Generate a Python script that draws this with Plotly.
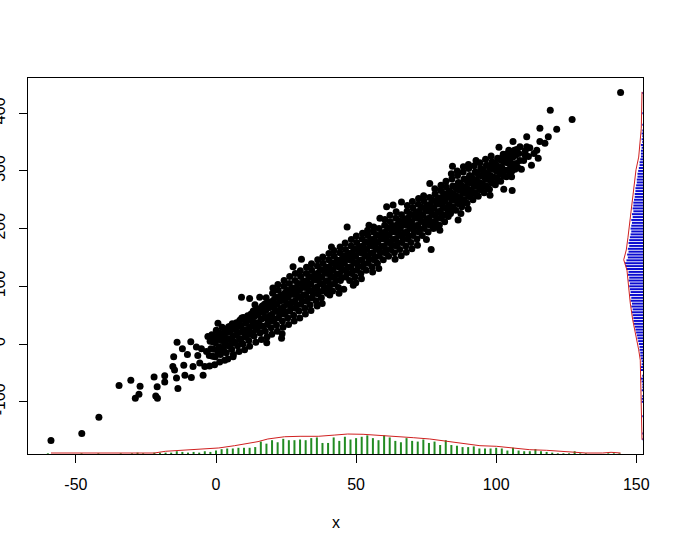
import plotly.graph_objects as go

# ---------------- scatter data ----------------
tail_left = [(-58.9,-167), (-47.9,-155), (-41.8,-127), (-34.6,-72), (-30.4,-63), (-27.1,-73),
             (-27.5,-87), (-28.8,-94), (-22.1,-57), (-21.0,-74), (-21.5,-90), (-20.9,-94),
             (-18.3,-55), (-18.3,-66), (-15.1,-22), (-15.4,-39), (-14.8,-45), (-14.1,-59),
             (-13.6,-77), (-13.9,3), (-12.0,-8), (-11.5,-37), (-11.1,-54), (-8.8,-58),
             (-8.2,-39), (-9.0,4), (-7.0,-5), (-5.2,-8), (-4.6,-54), (-5.8,-33), (-4.0,-39),
             (-2.3,-38), (-0.5,-36), (1.3,-31), (3.1,-28), (-3.4,-13), (-2.9,13), (0.7,36),
             (6.1,-22), (-6.5,-20), (-10.2,-18)]

band_a = [(-2.4,-20), (-1.8,-8), (-2.1,5), (-1.5,16),
          (-0.3,-22), (0.4,-10), (-0.2,2), (0.5,14), (0.1,24),
          (1.6,-18), (2.3,-6), (1.9,6), (2.5,18), (2.2,29),
          (3.7,-15), (4.4,-3), (4.1,9), (3.8,20), (4.5,30), (4.2,-26),
          (5.6,-9), (6.3,2), (6.0,14), (6.4,26), (5.8,35), (6.2,-18),
          (7.7,-3), (8.4,9), (8.1,20), (7.8,32), (8.5,41), (8.2,-13),
          (9.6,0), (10.3,12), (10.0,24), (10.5,36), (9.8,46), (10.2,-10), (9.1,81),
          (11.7,6), (12.4,17), (12.1,29), (11.8,41), (12.5,52), (12.0,-4), (12.0,79),
          (13.6,14), (14.3,25), (14.0,37), (13.8,48), (14.5,60), (14.2,3), (13.9,68),
          (15.7,19), (16.4,31), (16.1,43), (15.8,55), (16.5,66), (16.2,8), (15.6,81),
          (17.6,22), (18.3,34), (18.0,46), (17.8,58), (18.5,70), (18.2,12), (17.9,80), (18.1,2),
          (19.7,28), (20.4,40), (20.1,52), (19.8,64), (20.5,76), (20.2,88), (19.9,17), (20.3,97),
          (21.6,33), (22.3,45), (22.0,57), (21.8,69), (22.5,81), (22.2,93), (21.9,22), (22.1,103),
          (23.7,40), (24.4,52), (24.1,64), (23.8,76), (24.5,88), (24.2,100), (23.9,29), (24.3,110),
          (23.4,10), (23.6,18),
          (25.6,45), (26.3,57), (26.0,69), (25.8,81), (26.5,93), (26.2,105), (25.9,34), (26.3,117),
          (27.5,134),
          (27.7,50), (28.4,62), (28.1,74), (27.8,86), (28.5,98), (28.2,110), (27.9,40), (28.3,122)]

band_b = [(29.6,57), (30.3,69), (30.0,81), (29.8,93), (30.5,105), (30.2,117), (29.9,45), (30.1,127),
          (30.5,147),
          (31.7,62), (32.4,74), (32.1,86), (31.8,98), (32.5,110), (32.2,122), (31.9,52), (32.3,133),
          (33.6,68), (34.3,80), (34.0,92), (33.8,104), (34.5,116), (34.2,128), (33.9,58), (34.1,139),
          (35.7,75), (36.4,87), (36.1,99), (35.8,111), (36.5,123), (36.2,135), (36.1,66), (36.3,146),
          (37.6,80), (38.3,92), (38.0,104), (37.8,116), (38.5,128), (38.2,140), (37.9,70), (38.1,151),
          (39.7,88), (40.4,98), (40.1,110), (39.8,122), (40.5,134), (40.2,146), (40.6,85), (40.3,157),
          (41.6,92), (42.3,104), (42.0,116), (41.8,128), (42.5,140), (42.2,152), (41.2,168), (42.1,162),
          (43.7,98), (44.4,110), (44.1,122), (43.8,134), (44.5,146), (44.2,158), (43.9,88), (44.3,168),
          (45.6,95), (46.3,116), (46.0,128), (45.8,140), (46.5,152), (46.2,164), (46.8,203), (46.1,175),
          (47.7,110), (48.4,122), (48.1,134), (47.8,146), (48.5,158), (48.2,170), (49.0,102), (48.3,181),
          (49.6,116), (50.3,128), (50.0,140), (49.8,152), (50.5,164), (50.2,176), (49.9,106), (50.1,187),
          (51.7,122), (52.4,134), (52.1,146), (51.8,158), (52.5,170), (52.2,182), (51.9,113), (52.3,192),
          (53.6,128), (54.3,140), (54.0,152), (53.8,164), (54.5,176), (54.2,188), (54.6,206), (54.1,197),
          (55.7,134), (56.4,146), (56.1,158), (55.8,170), (56.5,182), (56.2,194), (55.9,125), (56.3,203),
          (57.6,140), (58.3,152), (58.0,164), (57.8,176), (58.5,188), (58.2,200), (58.5,218), (58.1,131)]

band_c = [(59.7,146), (60.4,158), (60.1,170), (59.8,182), (60.5,194), (60.2,206), (60.9,238), (60.3,216),
          (61.6,152), (62.3,164), (62.0,176), (61.8,188), (62.5,200), (62.2,212), (63.2,241), (62.1,223),
          (63.7,158), (64.4,170), (64.1,182), (63.8,194), (64.5,206), (64.2,218), (63.9,147), (64.3,229),
          (65.6,164), (66.3,176), (66.0,188), (65.8,200), (66.5,212), (66.2,224), (66.2,246), (66.1,153),
          (67.7,170), (68.4,182), (68.1,194), (67.8,206), (68.5,218), (68.2,230), (67.9,159), (68.3,240),
          (69.6,176), (70.3,188), (70.0,200), (69.8,212), (70.5,224), (70.2,236), (69.9,165), (70.1,247),
          (71.7,182), (72.4,194), (72.1,206), (71.8,218), (72.5,230), (72.2,242), (71.9,171), (72.3,252),
          (73.6,188), (74.3,200), (74.0,212), (73.8,224), (74.5,236), (74.2,248), (75.1,181), (74.1,257),
          (75.7,194), (76.4,206), (76.1,218), (75.8,230), (76.5,242), (76.2,254), (76.8,164), (76.3,278),
          (77.6,200), (78.3,212), (78.0,224), (77.8,236), (78.5,248), (78.2,260), (78.7,203), (78.1,269),
          (79.7,206), (80.4,218), (80.1,230), (79.8,242), (80.5,254), (80.2,266), (79.9,197), (80.3,275),
          (81.6,212), (82.3,224), (82.0,236), (81.8,248), (82.5,260), (82.2,272), (82.9,221), (82.1,282),
          (83.7,226), (84.4,238), (84.1,250), (83.8,262), (84.5,274), (84.2,286), (84.4,308), (84.0,295),
          (85.6,232), (86.3,244), (86.0,256), (85.8,268), (86.5,280), (86.2,292), (86.4,215), (86.1,300),
          (87.7,238), (88.4,250), (88.0,262), (87.8,274), (88.5,286), (88.2,298), (87.4,226), (88.3,307)]

band_d = [(89.6,244), (90.3,256), (90.0,268), (89.8,280), (90.5,292), (90.2,304), (90.0,234), (90.1,311),
          (91.7,250), (92.4,262), (92.1,274), (91.8,286), (92.5,298), (92.2,309), (92.8,318),
          (93.6,256), (94.3,268), (94.0,280), (93.8,292), (94.5,304), (94.2,314),
          (95.7,262), (96.4,274), (96.1,286), (95.8,298), (96.5,310), (96.2,320),
          (97.6,268), (98.3,280), (98.0,292), (97.8,304), (98.5,316), (98.2,326), (97.8,258),
          (99.7,276), (100.4,288), (100.1,300), (99.8,312), (100.5,322), (101.0,341),
          (101.6,282), (102.3,294), (102.0,306), (101.8,318), (102.5,329), (102.7,268), (103.5,329),
          (103.7,290), (104.4,302), (104.1,314), (103.8,326), (104.5,336), (105.7,266), (105.5,290),
          (105.6,300), (106.3,312), (106.0,324), (106.5,336), (106.0,351),
          (107.7,306), (108.4,318), (108.1,330), (108.5,342),
          (109.0,303), (110.3,328), (110.9,342), (110.9,359), (109.8,318), (110.4,335),
          (112.6,310), (111.5,325), (112.0,340),
          (115.0,322), (115.6,351), (117.4,348), (115.6,374), (114.5,336), (113.5,330)]

# points in the solid core of the cloud, between the ones above
band_core = [(-1.2,-21), (-0.8,-9), (-1.1,4), (-0.7,13),
             (0.8,-15), (1.2,-5), (0.9,9), (1.3,19),
             (2.7,-11), (3.2,3), (2.9,13), (3.3,25),
             (4.8,-3), (5.3,7), (4.9,21), (5.2,31),
             (6.7,3), (7.2,15), (6.9,25), (7.3,37),
             (8.8,7), (9.3,21), (8.9,31), (9.2,45),
             (10.7,15), (11.2,25), (10.9,39), (11.3,49),
             (12.8,19), (13.2,33), (12.9,43), (13.3,57),
             (14.7,27), (15.2,37), (14.9,51), (15.3,61),
             (16.8,31), (17.2,45), (16.9,55), (17.3,69),
             (18.7,39), (19.2,49), (18.9,63), (19.3,73),
             (20.8,43), (21.2,57), (20.9,67), (21.3,81),
             (22.7,51), (23.2,61), (22.9,75), (23.3,85),
             (24.8,55), (25.2,69), (24.9,79), (25.3,93),
             (26.7,63), (27.2,73), (26.9,87), (27.3,97),
             (28.8,67), (29.2,81), (28.9,91), (29.3,105),
             (30.7,75), (31.2,85), (30.9,99), (31.3,109),
             (32.8,79), (33.2,93), (32.9,103), (33.3,117),
             (34.7,87), (35.2,97), (34.9,111), (35.3,121),
             (36.8,91), (37.2,105), (36.9,115), (37.3,129),
             (38.7,99), (39.2,109), (38.9,123), (39.3,133),
             (40.8,103), (41.2,117), (40.9,127), (41.3,141),
             (42.7,111), (43.2,121), (42.9,135), (43.3,145),
             (44.8,115), (45.2,129), (44.9,139), (45.3,153),
             (46.7,123), (47.2,133), (46.9,147), (47.3,157),
             (48.8,127), (49.2,141), (48.9,151), (49.3,165),
             (50.7,135), (51.2,145), (50.9,159), (51.3,169),
             (52.8,139), (53.2,153), (52.9,163), (53.3,177),
             (54.7,147), (55.2,157), (54.9,171), (55.3,181),
             (56.8,151), (57.2,165), (56.9,175), (57.3,189),
             (58.7,159), (59.2,169), (58.9,183), (59.3,193),
             (60.8,163), (61.2,177), (60.9,187), (61.3,201),
             (62.7,171), (63.2,181), (62.9,195), (63.3,205),
             (64.8,175), (65.2,189), (64.9,199), (65.3,213),
             (66.7,183), (67.2,193), (66.9,207), (67.3,217),
             (68.8,187), (69.2,201), (68.9,211), (69.3,225),
             (70.7,195), (71.2,205), (70.9,219), (71.3,229),
             (72.8,199), (73.2,213), (72.9,223), (73.3,237),
             (74.7,207), (75.2,217), (74.9,231), (75.3,241),
             (76.8,211), (77.2,225), (76.9,235), (77.3,249),
             (78.7,219), (79.2,229), (78.9,243), (79.3,253),
             (80.8,223), (81.2,237), (80.9,247), (81.3,261),
             (82.7,231), (83.2,241), (82.9,255), (83.3,265),
             (84.8,235), (85.2,249), (84.9,259), (85.3,273),
             (86.7,243), (87.2,253), (86.9,267), (87.3,277),
             (88.8,247), (89.2,261), (88.9,271), (89.3,285),
             (90.7,255), (91.2,265), (90.9,279), (91.3,289),
             (92.8,259), (93.2,273), (92.9,283), (93.3,297),
             (94.7,267), (95.2,277), (94.9,291), (95.3,301),
             (96.8,271), (97.2,285), (96.9,295), (97.3,309),
             (98.7,279), (99.2,289), (98.9,303), (99.3,313),
             (100.8,283), (101.2,297), (100.9,307), (101.3,321),
             (102.7,291), (103.2,301), (102.9,315), (103.3,325),
             (104.8,295), (105.2,309), (104.9,319), (105.3,333),
             (106.7,303), (107.2,313), (106.9,327), (107.3,337)]

tail_right = [(118.6,359), (119.3,405), (121.6,372), (127.1,389), (144.4,436)]

# ---------------- marginal histogram of x (bin mids, counts) ----------------
x_mids = list(range(-60, 146, 2))
x_counts = [1,0,0,0,0,0,1,0,0,1, 0,0,0,1,0,1,2,1,0,2,
            2,2,2,4,3,2,3,2,4,3, 5,7,8,8,9,9,9,10,18,15,
            20,17,22,20,20,21,20,23,24,16, 16,24,19,25,21,23,25,27,23,20,
            27,24,19,17,23,19,18,21,16,18, 13,20,13,12,10,10,11,8,8,8,
            9,8,5,9,5,4,4,7,4,3, 2,1,1,1,4,1,1,0,0,0,
            1,1,1]
x_line_pos = [-58.9, -22, -18, -3, 1, 6.6, 12.6, 15, 18.5, 24.5, 30, 36.5, 42.4, 47, 52.5, 58.5,
              64.4, 70.4, 76.3, 82.3, 88.2, 94.2, 100.1, 106, 112, 118, 124, 132, 138, 141, 144.4]
x_line_val = [0, 0, 2.5, 5.8, 7.3, 10.6, 15, 16.5, 20.3, 23.6, 24.2, 24.2, 26, 27.5, 27.1, 25.7,
              24.2, 22.2, 20.3, 17.4, 13.5, 10.6, 9.7, 7.7, 4.8, 3.9, 1.9, 0, 0, 1, 0]

# ---------------- marginal histogram of y (bin mids, counts) ----------------
y_mids = list(range(-165, 440, 5))
y_counts = [1,0,1,0,0,0,0,0,1,0, 0,0,0,2,2,1,0,2,1,1,
            2,3,1,0,3,3,2,2,3,4, 4,5,5,6,7,8,9,10,11,12,
            13,14,14,15,16,15,17,16,18,17, 19,18,19,20,19,21,20,22,21,24,
            25,26,24,22,23,21,22,20,21,20, 19,18,17,18,17,16,17,15,16,14,
            15,14,14,13,12,12,11,11,10,9, 9,8,8,7,6,5,5,4,3,3,
            3,2,3,1,2,1,2,1,0,1, 0,0,0,1,0,0,0,0,0,0,
            1]
y_line_pos = [-166, -102, -75, -28, -10, 12, 42, 71, 99, 128, 146, 163, 185, 220, 250, 276, 302,
              324, 348, 374, 437]
y_line_val = [0, 1, 1.5, 2.5, 4.8, 8.7, 13.5, 17, 19.3, 21.8, 26.5, 22.8, 20.3, 17, 14.5, 12,
              8.7, 4.8, 2.5, 1, 0]

x_ticks = [-50, 0, 50, 100, 150]
y_ticks = [-100, 0, 100, 200, 300, 400]

# ---------------- layout constants ----------------
W, H = 684, 552
L, R, T, B = 28, 643, 78, 454
X_MIN, X_MAX = -67.1, 152.4
Y_MIN, Y_MAX = -190.6, 461.0
xu = (X_MAX - X_MIN) / (R - L)
yu = (Y_MAX - Y_MIN) / (B - T)
PX_PER_COUNT = 0.69
FONT = "Liberation Sans, Arial, sans-serif"

pts = tail_left + band_a + band_b + band_c + band_d + band_core + tail_right
sx = [p[0] for p in pts]
sy = [p[1] for p in pts]

fig = go.Figure()
fig.add_trace(go.Scatter(x=sx, y=sy, mode="markers",
                         marker=dict(color="black", size=7, line=dict(width=0)),
                         hoverinfo="skip"))

gx, gy = [], []
for m, c in zip(x_mids, x_counts):
    if c > 0:
        gx += [m, m, None]
        gy += [Y_MIN, Y_MIN + c * PX_PER_COUNT * yu, None]
fig.add_trace(go.Scatter(x=gx, y=gy, mode="lines", line=dict(color="#228B22", width=2),
                         hoverinfo="skip"))
bx, by = [], []
for m, c in zip(y_mids, y_counts):
    if c > 0:
        bx += [X_MAX, X_MAX - c * PX_PER_COUNT * xu, None]
        by += [m, m, None]
fig.add_trace(go.Scatter(x=bx, y=by, mode="lines", line=dict(color="#0c0cd0", width=2),
                         hoverinfo="skip"))
fig.add_trace(go.Scatter(x=x_line_pos,
                         y=[Y_MIN + (1 + v * PX_PER_COUNT) * yu for v in x_line_val],
                         mode="lines", line=dict(color="#d02020", width=1), hoverinfo="skip"))
fig.add_trace(go.Scatter(x=[X_MAX - (1 + v * PX_PER_COUNT) * xu for v in y_line_val],
                         y=y_line_pos,
                         mode="lines", line=dict(color="#d02020", width=1), hoverinfo="skip"))

axis_common = dict(showgrid=False, zeroline=False, showline=True, linecolor="black", linewidth=1,
                   mirror=True, ticks="outside", ticklen=8, tickcolor="black", tickwidth=1,
                   tickfont=dict(family=FONT, size=16, color="black"), automargin=False)
fig.update_xaxes(range=[X_MIN, X_MAX], tickvals=x_ticks, ticktext=[str(v) for v in x_ticks],
                 ticklabelstandoff=8, **axis_common)
fig.update_yaxes(range=[Y_MIN, Y_MAX], tickvals=y_ticks, ticktext=[str(v) for v in y_ticks],
                 tickangle=-90, ticklabelstandoff=8, **axis_common)

fig.add_annotation(text="x", xref="paper", yref="paper", x=0.5, y=-(522 - B) / (B - T),
                   xanchor="center", yanchor="middle", showarrow=False,
                   font=dict(family=FONT, size=16, color="black"))

fig.update_layout(width=W, height=H, showlegend=False,
                  margin=dict(l=L, r=W - R, t=T, b=H - B, pad=0, autoexpand=False),
                  plot_bgcolor="white", paper_bgcolor="white")

fig.write_html("out.html", config={"displayModeBar": False},
               post_script="document.body.style.margin='0px';"
                           "document.documentElement.style.overflow='hidden';")
